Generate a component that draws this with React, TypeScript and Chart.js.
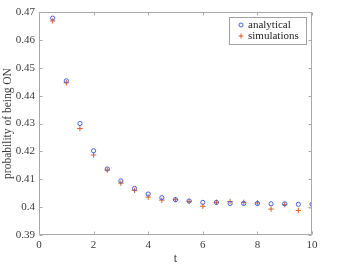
import React, { useEffect, useRef } from "react";
import { Chart, registerables } from "chart.js";

Chart.register(...registerables);

const tValues = [0.5, 1, 1.5, 2, 2.5, 3, 3.5, 4, 4.5, 5, 5.5, 6, 6.5, 7, 7.5, 8, 8.5, 9, 9.5, 10];
const analytical = [0.4678, 0.4453, 0.4300, 0.4202, 0.4137, 0.4094, 0.4067, 0.4047, 0.4034, 0.4027, 0.4022, 0.4017, 0.4017, 0.4013, 0.4013, 0.4013, 0.4012, 0.4012, 0.4010, 0.4010];
const simulations = [0.4668, 0.4446, 0.4282, 0.4187, 0.4133, 0.4086, 0.4060, 0.4036, 0.4025, 0.4027, 0.4020, 0.4003, 0.4017, 0.4020, 0.4017, 0.4015, 0.3993, 0.4009, 0.3988, 0.3997];
const xTicks = [0, 2, 4, 6, 8, 10];
const yTicks = [0.39, 0.4, 0.41, 0.42, 0.43, 0.44, 0.45, 0.46, 0.47];
const seriesNames = ["analytical", "simulations"];

const BLUE = "#4660d4";
const ORANGE = "#d8602a";
const AXIS = "#a8a8a8";
const TEXT = "#3a3a3a";
const FONT = "'Liberation Serif', 'Times New Roman', serif";

const boxPlugin = {
  id: "matlabBox",
  afterDraw(chart: any) {
    const { ctx, chartArea } = chart;
    const { left, right, top, bottom } = chartArea;
    const xs = chart.scales.x;
    const ys = chart.scales.y;
    ctx.save();
    ctx.strokeStyle = AXIS;
    ctx.lineWidth = 1;
    const L = Math.round(left) + 0.5;
    const R = Math.round(right) - 0.5;
    const T = Math.round(top) + 0.5;
    const B = Math.round(bottom) - 0.5;
    ctx.beginPath();
    ctx.rect(L, T, R - L, B - T);
    const tl = 3;
    xTicks.forEach((v) => {
      const px = Math.round(xs.getPixelForValue(v)) + 0.5;
      ctx.moveTo(px, B);
      ctx.lineTo(px, B - tl);
      ctx.moveTo(px, T);
      ctx.lineTo(px, T + tl);
    });
    yTicks.forEach((v) => {
      const py = Math.round(ys.getPixelForValue(v)) + 0.5;
      ctx.moveTo(L, py);
      ctx.lineTo(L + tl, py);
      ctx.moveTo(R, py);
      ctx.lineTo(R - tl, py);
    });
    ctx.stroke();

    // legend
    const bx = 229.5, by = 17.5, bw = 77, bh = 27;
    ctx.fillStyle = "#ffffff";
    ctx.fillRect(bx, by, bw, bh);
    ctx.strokeStyle = "#a0a0a0";
    ctx.strokeRect(bx, by, bw, bh);
    ctx.font = "11px " + FONT;
    ctx.textBaseline = "middle";
    ctx.fillStyle = "#222222";
    const rows = [25, 36];
    rows.forEach((y, i) => {
      ctx.fillText(seriesNames[i], 248, y);
      ctx.beginPath();
      if (i === 0) {
        ctx.strokeStyle = BLUE;
        ctx.arc(241, y, 2, 0, Math.PI * 2);
      } else {
        ctx.strokeStyle = ORANGE;
        ctx.moveTo(238.5, y);
        ctx.lineTo(243.5, y);
        ctx.moveTo(241, y - 2.5);
        ctx.lineTo(241, y + 2.5);
      }
      ctx.stroke();
    });
    ctx.restore();
  },
};

export default function App() {
  const ref = useRef<HTMLCanvasElement>(null);
  useEffect(() => {
    if (!ref.current) return;
    const chart = new Chart(ref.current, {
      type: "scatter",
      data: {
        datasets: [
          {
            label: seriesNames[0],
            data: tValues.map((t, i) => ({ x: t, y: analytical[i] })),
            pointStyle: "circle",
            pointRadius: 2.1,
            pointBorderColor: BLUE,
            pointBackgroundColor: "rgba(0,0,0,0)",
            pointBorderWidth: 1,
          },
          {
            label: seriesNames[1],
            data: tValues.map((t, i) => ({ x: t, y: simulations[i] })),
            pointStyle: "cross",
            pointRadius: 2.7,
            pointBorderColor: ORANGE,
            pointBackgroundColor: ORANGE,
            pointBorderWidth: 1,
          },
        ],
      },
      options: {
        animation: false,
        responsive: false,
        maintainAspectRatio: false,
        layout: { padding: { top: 12, right: 31, left: 0, bottom: 0 } },
        plugins: { legend: { display: false }, tooltip: { enabled: false } },
        scales: {
          x: {
            type: "linear",
            min: 0,
            max: 10,
            afterBuildTicks: (s: any) => {
              s.ticks = xTicks.map((v) => ({ value: v }));
            },
            afterFit: (s: any) => {
              s.height = 30;
            },
            grid: { display: false, drawTicks: false },
            border: { display: false },
            ticks: {
              padding: 4,
              color: TEXT,
              font: { family: FONT, size: 11 },
              maxRotation: 0,
              callback: (v: any) => String(v),
            },
            title: {
              display: true,
              text: "t",
              color: TEXT,
              font: { family: FONT, size: 12 },
              padding: { top: 0, bottom: -1.5 },
            },
          },
          y: {
            type: "linear",
            min: 0.39,
            max: 0.47,
            afterBuildTicks: (s: any) => {
              s.ticks = yTicks.map((v) => ({ value: v }));
            },
            afterFit: (s: any) => {
              s.width = 39;
            },
            grid: { display: false, drawTicks: false },
            border: { display: false },
            ticks: {
              padding: 4,
              color: TEXT,
              font: { family: FONT, size: 11 },
              callback: (v: any) => String(Number(Number(v).toFixed(2))),
            },
            title: {
              display: true,
              text: "probability of being ON",
              color: TEXT,
              font: { family: FONT, size: 11.5 },
              padding: { top: 1, bottom: 0 },
            },
          },
        },
      },
      plugins: [boxPlugin],
    } as any);
    return () => chart.destroy();
  }, []);
  return (
    <div style={{ position: "fixed", left: 0, top: 0, width: 343, height: 265, background: "#fff" }}>
      <canvas ref={ref} width={343} height={265} style={{ width: 343, height: 265 }} />
    </div>
  );
}
